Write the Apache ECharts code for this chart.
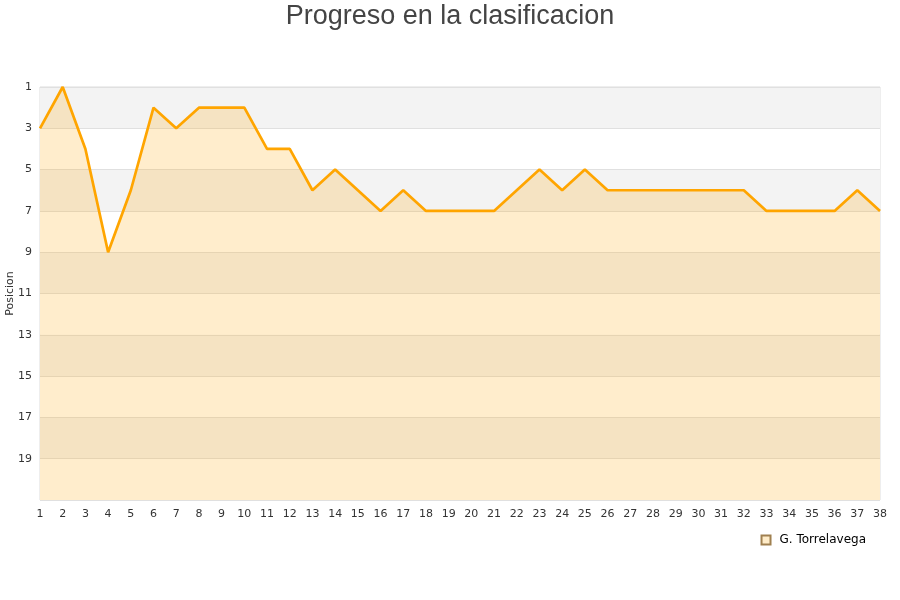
<!DOCTYPE html>
<html><head><meta charset="utf-8">
<script src="https://cdn.jsdelivr.net/npm/echarts@6/dist/echarts.min.js"></script>
<style>html,body{margin:0;padding:0;background:#fff}#c{width:900px;height:600px}</style>
</head><body><div id="c"></div>
<script>
const jornadas = ['1','2','3','4','5','6','7','8','9','10','11','12','13','14','15','16','17','18','19','20','21','22','23','24','25','26','27','28','29','30','31','32','33','34','35','36','37','38'];
const posiciones = [3,1,4,9,6,2,3,2,2,2,4,4,6,5,6,7,6,7,7,7,7,6,5,6,5,6,6,6,6,6,6,6,7,7,7,7,6,7];
const yTicks = [1,3,5,7,9,11,13,15,17,19];
const equipo = 'G. Torrelavega';

const chart = echarts.init(document.getElementById('c'));
chart.setOption({
  animation: false,
  title: {text: 'Progreso en la clasificacion', left: 'center', top: -2,
    textStyle: {fontFamily: 'Liberation Sans, Arial, sans-serif', fontSize: 27, fontWeight: 'normal', color: '#444'}},
  grid: {left: 40, right: 20, top: 87, bottom: 100, containLabel: false, outerBoundsMode: 'none',
    show: true, borderColor: '#ddd', borderWidth: 1, backgroundColor: 'transparent'},
  legend: {data: [{name: equipo, icon: 'rect'}], right: 29, top: 529, itemWidth: 9, itemHeight: 9, itemGap: 9,
    textStyle: {fontFamily: 'DejaVu Sans', fontSize: 12, color: '#000', padding: [0, 0, 0, 4]}},
  xAxis: {type: 'category', data: jornadas, boundaryGap: false,
    axisLine: {show: false}, axisTick: {show: false},
    axisLabel: {interval: 0, fontFamily: 'DejaVu Sans', fontSize: 11, color: '#333', margin: 9},
    splitLine: {show: false}},
  yAxis: {type: 'value', inverse: true, min: 1, max: 21, interval: 2,
    name: 'Posicion', nameLocation: 'middle', nameGap: 24, nameRotate: 90, nameMoveOverlap: false,
    nameTextStyle: {fontFamily: 'DejaVu Sans', fontSize: 11, color: '#333'},
    axisLine: {show: false}, axisTick: {show: false},
    axisLabel: {fontFamily: 'DejaVu Sans', fontSize: 11, color: '#333', margin: 8,
      formatter: v => yTicks.includes(v) ? String(v) : ''},
    splitLine: {show: true, lineStyle: {color: '#e0e0e0', width: 1}},
    splitArea: {show: true, areaStyle: {color: ['#f3f3f3', '#ffffff']}}},
  series: [{name: equipo, type: 'line', data: posiciones, symbol: 'none',
    lineStyle: {color: '#ffa500', width: 2.7},
    itemStyle: {color: '#ffecc8', borderColor: '#a08050', borderWidth: 1},
    areaStyle: {color: 'rgba(255,165,0,0.2)', opacity: 1, origin: 'end'}}]
});
</script></body></html>
